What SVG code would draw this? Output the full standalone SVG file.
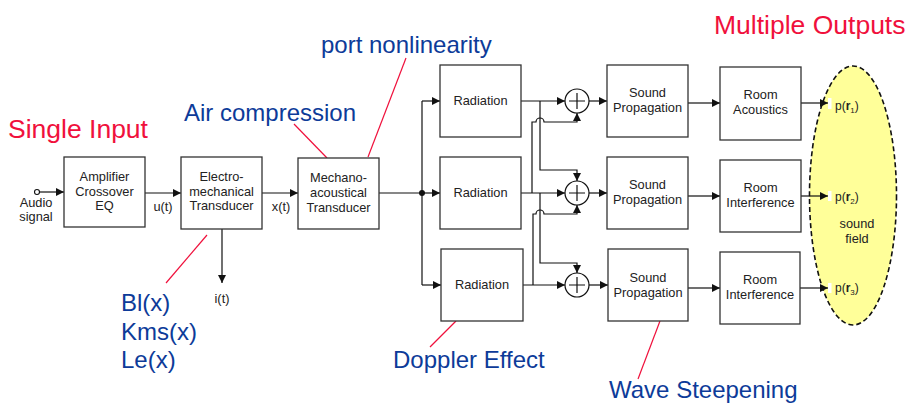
<svg xmlns="http://www.w3.org/2000/svg" width="910" height="404" viewBox="0 0 910 404">
<defs>
<marker id="ah" viewBox="0 0 10 10" refX="10" refY="5" markerWidth="8" markerHeight="8" markerUnits="userSpaceOnUse" orient="auto">
<path d="M0,0 L10,5 L0,10 z" fill="#111"/>
</marker>
</defs>
<style>
.box{fill:#fff;stroke:#333;stroke-width:1.3}
.t{font-family:"Liberation Sans",Arial,sans-serif;font-size:12.8px;fill:#222;text-anchor:middle}
.s{font-family:"Liberation Sans",Arial,sans-serif;font-size:12px;fill:#222}
.ln{fill:none;stroke:#111;stroke-width:1.2}
.ar{fill:none;stroke:#111;stroke-width:1.2;marker-end:url(#ah)}
.red{font-family:"Liberation Sans",Arial,sans-serif;font-size:26.5px;fill:#f0103c}
.blue{font-family:"Liberation Sans",Arial,sans-serif;font-size:24px;fill:#0d3b99}
.cl{stroke:#f0103c;stroke-width:1.2;fill:none}
.sum{fill:#fff;stroke:#111;stroke-width:1.2}
</style>
<rect width="910" height="404" fill="#fff"/>

<g id="field">
<ellipse cx="853" cy="195.5" rx="43.5" ry="129.5" fill="#ffff99" stroke="#111" stroke-width="1.6" stroke-dasharray="5,3"/>
<text class="t" x="857" y="228" font-size="11.5">sound</text>
<text class="t" x="857" y="243" font-size="11.5">field</text>
</g>

<g id="connectors">
<circle cx="37" cy="192" r="2.5" fill="#fff" stroke="#111" stroke-width="1.1"/>
<path class="ar" d="M39.5,192 H64"/>
<path class="ar" d="M145,193 H181"/>
<path class="ar" d="M262,193 H298"/>
<path class="ln" d="M379,193 H422"/>
<circle cx="422" cy="193" r="3" fill="#111"/>
<path class="ln" d="M422,101 V285"/>
<path class="ar" d="M422,101 H440"/>
<path class="ar" d="M422,193 H440"/>
<path class="ar" d="M422,285 H441"/>
<path class="ar" d="M222,229 V283"/>
<path class="ar" d="M521,101 H565"/>
<path class="ar" d="M521,193 H565"/>
<path class="ar" d="M523,285 H565"/>
<path class="ar" d="M540,101 V170 H577 V181"/>
<path class="ar" d="M540,193 V263 H577 V273"/>
<path class="ar" d="M532,193 V122 H536 A4,4 0 0 1 544,122 H577 V113"/>
<path class="ar" d="M533,285 V214 H536 A4,4 0 0 1 544,214 H577 V205"/>
<path class="ar" d="M589,101 H607"/>
<path class="ar" d="M589,193 H607"/>
<path class="ar" d="M589,285 H608"/>
<path class="ar" d="M688,103 H720"/>
<path class="ar" d="M688,196 H720"/>
<path class="ar" d="M688,288 H720"/>
<path class="ar" d="M801,103 H828"/>
<path class="ar" d="M801,196 H828"/>
<path class="ar" d="M800,288 H828"/>
<rect x="828" y="98" width="3.5" height="11" fill="#fff"/>
<rect x="828" y="191" width="3.5" height="10" fill="#fff"/>
<rect x="828" y="283" width="3.5" height="10" fill="#fff"/>
<path class="cl" d="M294,124 L327,158"/>
<path class="cl" d="M406,58 L368,157"/>
<path class="cl" d="M207,235 L166,283"/>
<path class="cl" d="M456,321 L430,347"/>
<path class="cl" d="M660,321 L638,379"/>
</g>

<g id="labels">
<text class="t" x="36" y="207">Audio</text>
<text class="t" x="36" y="221">signal</text>
<text class="t" x="163" y="211">u(t)</text>
<text class="t" x="281" y="211">x(t)</text>
<text class="t" x="222" y="303" font-size="11">i(t)</text>
<text class="s" x="835" y="110">p(<tspan font-weight="bold">r</tspan><tspan font-size="8" dy="3">1</tspan><tspan dy="-3">)</tspan></text>
<text class="s" x="835" y="201">p(<tspan font-weight="bold">r</tspan><tspan font-size="8" dy="3">2</tspan><tspan dy="-3">)</tspan></text>
<text class="s" x="835" y="292">p(<tspan font-weight="bold">r</tspan><tspan font-size="8" dy="3">3</tspan><tspan dy="-3">)</tspan></text>
<text class="red" x="8" y="138">Single Input</text>
<text class="red" x="714" y="34">Multiple Outputs</text>
<text class="blue" x="184" y="121">Air compression</text>
<text class="blue" x="321" y="53">port nonlinearity</text>
<text class="blue" x="121" y="311">Bl(x)</text>
<text class="blue" x="121" y="340">Kms(x)</text>
<text class="blue" x="121" y="368">Le(x)</text>
<text class="blue" x="393" y="368">Doppler Effect</text>
<text class="blue" x="609" y="398">Wave Steepening</text>
</g>

<g id="amp">
<rect class="box" x="64" y="157" width="81" height="70"/>
<text class="t" x="104.5" y="181">Amplifier</text>
<text class="t" x="104.5" y="196">Crossover</text>
<text class="t" x="104.5" y="210">EQ</text>
</g>
<g id="electro">
<rect class="box" x="181" y="157" width="81" height="72"/>
<text class="t" x="221.5" y="181">Electro-</text>
<text class="t" x="221.5" y="196">mechanical</text>
<text class="t" x="221.5" y="210">Transducer</text>
</g>
<g id="mechano">
<rect class="box" x="298" y="158" width="81" height="71"/>
<text class="t" x="338.5" y="182">Mechano-</text>
<text class="t" x="338.5" y="197">acoustical</text>
<text class="t" x="338.5" y="212">Transducer</text>
</g>
<g id="rad1">
<rect class="box" x="440" y="65" width="81" height="72"/>
<text class="t" x="480.5" y="105">Radiation</text>
</g>
<g id="rad2">
<rect class="box" x="440" y="157" width="81" height="72"/>
<text class="t" x="480.5" y="197">Radiation</text>
</g>
<g id="rad3">
<rect class="box" x="441" y="249" width="82" height="72"/>
<text class="t" x="482" y="289">Radiation</text>
</g>
<g id="sum1">
<circle class="sum" cx="577" cy="101" r="12"/>
<path class="ln" d="M569,101 H585 M577,93 V109"/>
</g>
<g id="sum2">
<circle class="sum" cx="577" cy="193" r="12"/>
<path class="ln" d="M569,193 H585 M577,185 V201"/>
</g>
<g id="sum3">
<circle class="sum" cx="577" cy="285" r="12"/>
<path class="ln" d="M569,285 H585 M577,277 V293"/>
</g>
<g id="sp1">
<rect class="box" x="607" y="65" width="81" height="72"/>
<text class="t" x="647.5" y="97">Sound</text>
<text class="t" x="647.5" y="112">Propagation</text>
</g>
<g id="sp2">
<rect class="box" x="607" y="157" width="81" height="72"/>
<text class="t" x="647.5" y="189">Sound</text>
<text class="t" x="647.5" y="204">Propagation</text>
</g>
<g id="sp3">
<rect class="box" x="608" y="249" width="80" height="72"/>
<text class="t" x="648" y="282">Sound</text>
<text class="t" x="648" y="297">Propagation</text>
</g>
<g id="room1">
<rect class="box" x="720" y="67" width="81" height="73"/>
<text class="t" x="760.5" y="99">Room</text>
<text class="t" x="760.5" y="114">Acoustics</text>
</g>
<g id="room2">
<rect class="box" x="720" y="160" width="81" height="72"/>
<text class="t" x="760.5" y="192">Room</text>
<text class="t" x="760.5" y="207">Interference</text>
</g>
<g id="room3">
<rect class="box" x="720" y="252" width="80" height="72"/>
<text class="t" x="760" y="284">Room</text>
<text class="t" x="760" y="299">Interference</text>
</g>
</svg>
